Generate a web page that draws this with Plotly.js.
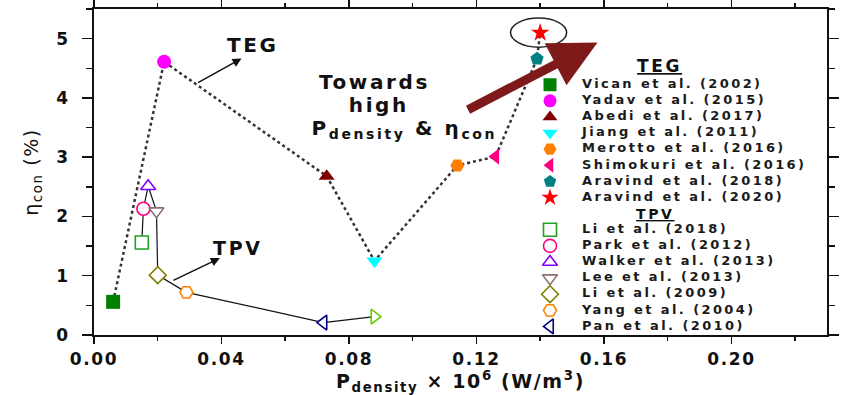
<!DOCTYPE html>
<html>
<head>
<meta charset="utf-8">
<script src="https://cdn.plot.ly/plotly-3.0.1.min.js"></script>
<style>
html,body{margin:0;padding:0;background:#fff;}
#chart{width:843px;height:395px;}
#chart text{letter-spacing:1.6px;}
#chart .textpoint text{letter-spacing:2.4px;}
#chart .annotation-text{letter-spacing:2.6px;}
</style>
</head>
<body>
<div id="chart"></div>
<script>
// ---- TEG data ----
const tegNames = ['Vican et al. (2002)', 'Yadav et al. (2015)', 'Abedi et al. (2017)', 'Jiang et al. (2011)',
  'Merotto et al. (2016)', 'Shimokuri et al. (2016)', 'Aravind et al. (2018)', 'Aravind et al. (2020)'];
const tegX = [0.006, 0.022, 0.073, 0.088, 0.114, 0.126, 0.139, 0.140];
const tegY = [0.56, 4.61, 2.68, 1.25, 2.86, 3.01, 4.66, 5.10];
const tegColors = ['#008000', '#ff00ff', '#800000', '#00ffff', '#ff8000', '#ff0080', '#008080', '#ff0000'];
const tegSymbols = ['square', 'circle', 'triangle-up', 'triangle-down', 'hexagon2', 'triangle-left', 'pentagon', 'star'];

// ---- TPV data ----
const tpvNames = ['Li et al. (2018)', 'Park et al. (2012)', 'Walker et al. (2013)', 'Lee et al. (2013)',
  'Li et al. (2009)', 'Yang et al. (2004)', 'Pan et al. (2010)', ''];
const tpvX = [0.015, 0.0155, 0.017, 0.0196, 0.020, 0.029, 0.072, 0.088];
const tpvY = [1.56, 2.13, 2.51, 2.09, 1.01, 0.72, 0.21, 0.31];
const tpvColors = ['#22a022', '#ff0080', '#8000ff', '#8b6f6f', '#808000', '#ff8000', '#000080', '#66cc00'];
const tpvSymbols = ['square', 'circle', 'triangle-up', 'triangle-down', 'diamond', 'hexagon2', 'triangle-left', 'triangle-right'];

// ---- axis ticks ----
const xTickVals = [0, 0.04, 0.08, 0.12, 0.16, 0.20];
const xTickText = ['0.00', '0.04', '0.08', '0.12', '0.16', '0.20'];
const yTickVals = [0, 1, 2, 3, 4, 5];

const FONT = 'DejaVu Sans, Liberation Sans, Arial, sans-serif';

const traces = [
  { x: tegX, y: tegY, mode: 'lines', line: { color: '#333', width: 2.5, dash: 'dot' }, hoverinfo: 'skip' },
  { x: tpvX, y: tpvY, mode: 'lines', line: { color: '#111', width: 1.2 }, hoverinfo: 'skip' },
  { x: tegX, y: tegY, mode: 'markers', text: tegNames,
    marker: { symbol: tegSymbols, color: tegColors, size: 14, line: { width: 0 } } },
  { x: tpvX, y: tpvY, mode: 'markers', text: tpvNames,
    marker: { symbol: tpvSymbols, color: 'white', size: 13, line: { color: tpvColors, width: 1.6 } } }
];

// ---- custom legend (rows on an overlay axis) ----
const legNames = [], legRows = [], legSym = [], legFill = [], legLine = [], legLW = [];
tegNames.forEach((n, i) => { legNames.push(n); legRows.push(i); legSym.push(tegSymbols[i]); legFill.push(tegColors[i]); legLine.push(tegColors[i]); legLW.push(0); });
tpvNames.forEach((n, i) => { if (!n) return; legNames.push(n); legRows.push(tegNames.length + 1 + i); legSym.push(tpvSymbols[i]); legFill.push('white'); legLine.push(tpvColors[i]); legLW.push(1.6); });
const legMarkX = legRows.map(() => 456);
const legTextX = legRows.map(() => 488);

traces.push({ x: legMarkX, y: legRows, xaxis: 'x2', yaxis: 'y2', mode: 'markers', hoverinfo: 'skip',
  marker: { symbol: legSym, color: legFill, size: 13, line: { color: legLine, width: legLW } } });
traces.push({ x: legTextX, y: legRows, xaxis: 'x2', yaxis: 'y2', mode: 'text', text: legNames, hoverinfo: 'skip',
  textposition: 'middle right', cliponaxis: false,
  textfont: { family: FONT, size: 13, weight: 'bold', color: '#1a1a1a' } });

const axisCommon = {
  showline: true, linecolor: '#111', linewidth: 2, mirror: 'ticks', showgrid: false, zeroline: false,
  ticks: 'outside', tickcolor: '#111', tickwidth: 1.5, tickangle: 0,
  tickfont: { family: FONT, size: 17, weight: 'bold', color: '#111' }
};

const layout = {
  width: 843, height: 395,
  margin: { l: 94, r: 16, t: 9, b: 60 },
  paper_bgcolor: 'white', plot_bgcolor: 'white',
  showlegend: false,
  xaxis: Object.assign({}, axisCommon, {
    range: [0, 0.23], tickvals: xTickVals, ticktext: xTickText, ticklen: 7, ticklabelstandoff: 1,
    minor: { dtick: 0.02, tick0: 0, ticks: 'outside', ticklen: 4, tickwidth: 1.5, tickcolor: '#111' },
    title: { text: '<b>P<sub>density</sub> × 10<sup>6</sup> (W/m<sup>3</sup>)</b>', standoff: 10,
      font: { family: FONT, size: 19, color: '#111' } }
  }),
  yaxis: Object.assign({}, axisCommon, {
    range: [0, 5.5], tickvals: yTickVals, ticklen: 10, ticklabelstandoff: 9,
    minor: { dtick: 0.5, tick0: 0, ticks: 'outside', ticklen: 6, tickwidth: 1.5, tickcolor: '#111' },
    title: { text: 'η<sub>con</sub> (%)', standoff: 14, font: { family: FONT, size: 19, color: '#111' } }
  }),
  xaxis2: { overlaying: 'x', range: [0, 733], visible: false, fixedrange: true },
  yaxis2: { overlaying: 'y', range: [15.53, -4.70], visible: false, fixedrange: true },
  shapes: [
    { type: 'circle', xref: 'x', yref: 'y', x0: 0.1307, x1: 0.1483, y0: 4.856, y1: 5.347,
      line: { color: '#222', width: 1.5 } }
  ],
  annotations: [
    { xref: 'x2', yref: 'y2', x: 565, y: -1.15, text: '<b>TEG</b>', showarrow: false,
      font: { family: FONT, size: 17, color: '#111', lineposition: 'under' } },
    { xref: 'x2', yref: 'y2', x: 561, y: 8.0, text: '<b>TPV</b>', showarrow: false,
      font: { family: FONT, size: 14, color: '#111', lineposition: 'under' } },
    { x: 0.0499, y: 4.895, text: '<b>TEG</b>', showarrow: false, font: { family: FONT, size: 20, color: '#111' } },
    { x: 0.0395, y: 1.298, ax: -48, ay: 23, text: '', showarrow: true, arrowhead: 2, arrowsize: 1.2, arrowwidth: 1.5, arrowcolor: '#111' },
    { x: 0.0463, y: 4.665, ax: -45, ay: 25, text: '', showarrow: true, arrowhead: 2, arrowsize: 1.2, arrowwidth: 1.5, arrowcolor: '#111' },
    { x: 0.0453, y: 1.47, text: '<b>TPV</b>', showarrow: false, font: { family: FONT, size: 19, color: '#111' } },
    { x: 0.0881, y: 4.272, text: '<b>Towards</b>', showarrow: false, font: { family: FONT, size: 20, color: '#111' } },
    { x: 0.0893, y: 3.875, text: '<b>high</b>', showarrow: false, font: { family: FONT, size: 20, color: '#111' } },
    { x: 0.0737, y: 3.47, xanchor: 'left', text: '<b>P<sub>density</sub> & η<sub>con</sub></b>', showarrow: false,
      font: { family: FONT, size: 20, color: '#111' } },
    { x: 0.158, y: 4.935, ax: -131, ay: 68, text: '', showarrow: true, arrowhead: 2, arrowsize: 1.05,
      arrowwidth: 9, arrowcolor: '#7f1a1a' }
  ]
};

Plotly.newPlot('chart', traces, layout, { displayModeBar: false, staticPlot: true });
</script>
</body>
</html>
